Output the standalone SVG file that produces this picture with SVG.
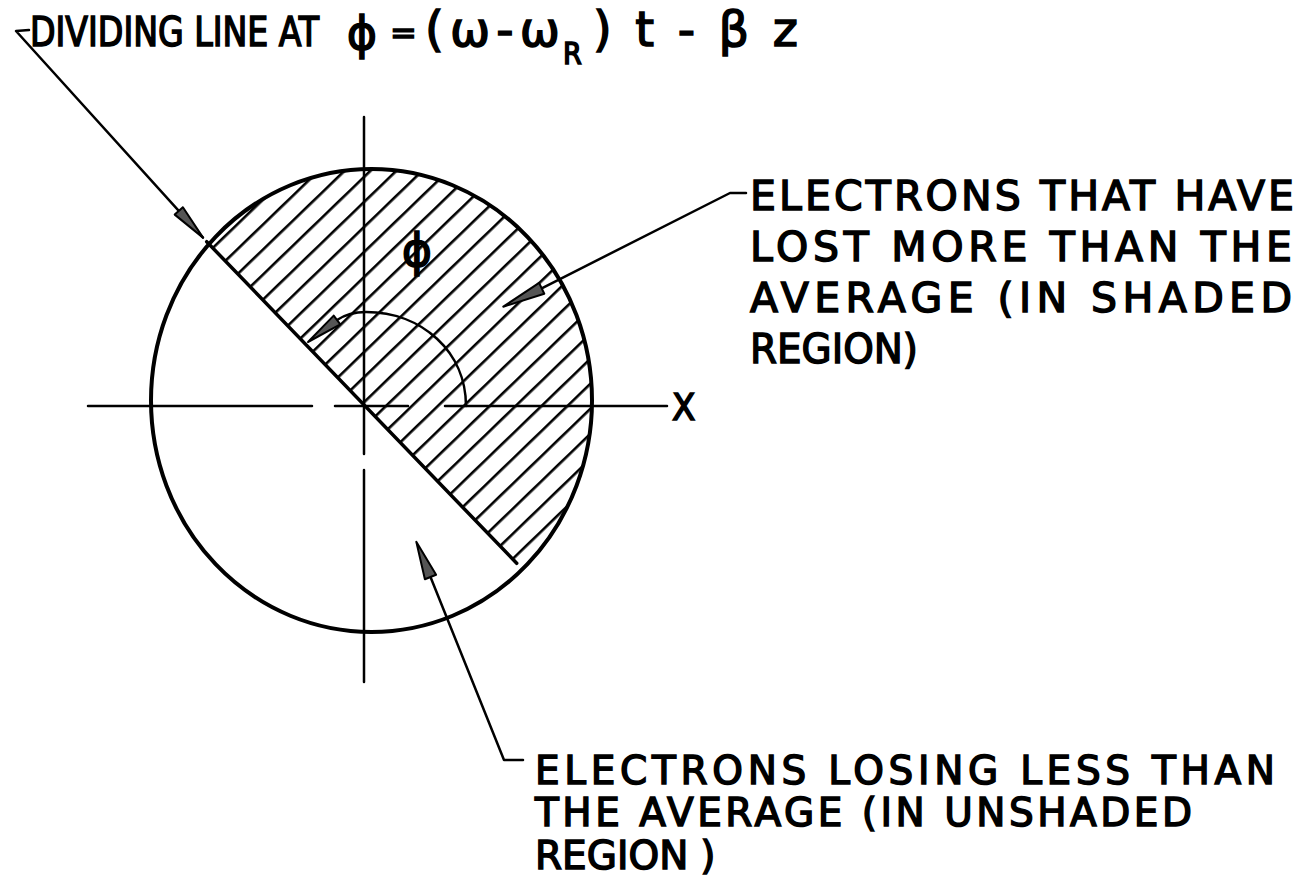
<svg xmlns="http://www.w3.org/2000/svg" width="1308" height="882" viewBox="0 0 1308 882">
<style>
.ln{stroke:#000;fill:none;stroke-linecap:round;stroke-linejoin:round}
.t{font-family:'DejaVu Sans','Liberation Sans',sans-serif;fill:#000;stroke:#000;stroke-width:1.5}
.c{font-family:'DejaVu Sans Condensed','DejaVu Sans','Liberation Sans',sans-serif}
.ah{fill:#555;stroke:#000;stroke-width:2;stroke-linejoin:round}
</style>
<defs>
<pattern id="hatch" patternUnits="userSpaceOnUse" width="18" height="18" patternTransform="rotate(46 364 406)">
<rect x="0" y="0" width="2.6" height="18" fill="#000"/>
</pattern>
<clipPath id="ell"><ellipse cx="371.5" cy="400.5" rx="220.5" ry="231.5"/></clipPath>
<clipPath id="half"><path d="M-93 -69L817 -69L817 874Z"/></clipPath>
</defs>
<rect width="1308" height="882" fill="#fff"/>
<g id="axes">
<path class="ln" stroke-width="2.5" d="M364 117V454M364 470V682"/>
<path class="ln" stroke-width="2.5" d="M88 406H312M335 406H408M445 406H667"/>
</g>
<g id="shaded-region" clip-path="url(#ell)">
<rect x="140" y="160" width="470" height="480" fill="url(#hatch)" clip-path="url(#half)"/>
</g>
<g id="circle">
<ellipse cx="371.5" cy="400.5" rx="220.5" ry="231.5" class="ln" stroke-width="4"/>
</g>
<g id="dividing-line">
<path class="ln" stroke-width="3.5" d="M206.7 241.7L516.7 563.3"/>
</g>
<g id="angle-phi">
<path class="ln" stroke-width="2.5" d="M466 406C466 352 422 312 366 312C352 312 343 316 337 320"/>
<path class="ah" d="M308 342L340.3 324.4L333.7 315.6Z"/>
<text class="t" x="417" y="266" font-size="46" text-anchor="middle">ϕ</text>
</g>
<g id="label-x">
<text class="t c" x="672" y="420" font-size="38">X</text>
</g>
<g id="connectors">
<path class="ln" stroke-width="2.5" d="M29 30L16 31L203 237.6"/>
<path class="ah" d="M203 237.6L182.9 207.2L174.7 214.6Z"/>
<path class="ln" stroke-width="2.5" d="M746 193H730L541.7 288.3"/>
<path class="ah" d="M503.3 306.7L544.3 293.7L539.1 282.9Z"/>
<path class="ln" stroke-width="2.5" d="M523 760H504L430.5 577"/>
<path class="ah" d="M416.3 541.7L436.1 574.8L424.9 579.2Z"/>
</g>
<g id="label-dividing">
<text class="t c" transform="translate(30 46) scale(0.9 1)" x="0" y="0" font-size="41">DIVIDING LINE AT</text>
<text class="t" x="362" y="49" font-size="46" text-anchor="middle">ϕ</text>
<text class="t" x="390" y="44" font-size="32">=</text>
<text class="t" x="425" y="46" font-size="48" textLength="135" lengthAdjust="spacing">(ω-ω</text>
<text class="t c" x="563" y="64" font-size="30">R</text>
<text class="t" x="593" y="46" font-size="48" textLength="205" lengthAdjust="spacing">)t-βz</text>
</g>
<g id="label-shaded">
<text class="t" x="750" y="210" font-size="41" textLength="544" lengthAdjust="spacing">ELECTRONS THAT HAVE</text>
<text class="t" x="750" y="261" font-size="41" textLength="542" lengthAdjust="spacing">LOST MORE THAN THE</text>
<text class="t" x="750" y="312" font-size="41" textLength="542" lengthAdjust="spacing">AVERAGE (IN SHADED</text>
<text class="t" x="750" y="363" font-size="41" textLength="168" lengthAdjust="spacingAndGlyphs">REGION)</text>
</g>
<g id="label-unshaded">
<text class="t" x="535" y="784" font-size="39" textLength="740" lengthAdjust="spacing">ELECTRONS LOSING LESS THAN</text>
<text class="t" x="535" y="826" font-size="39" textLength="657" lengthAdjust="spacing">THE  AVERAGE (IN UNSHADED</text>
<text class="t" x="535" y="869" font-size="39">REGION<tspan dx="12">)</tspan></text>
</g>
</svg>
